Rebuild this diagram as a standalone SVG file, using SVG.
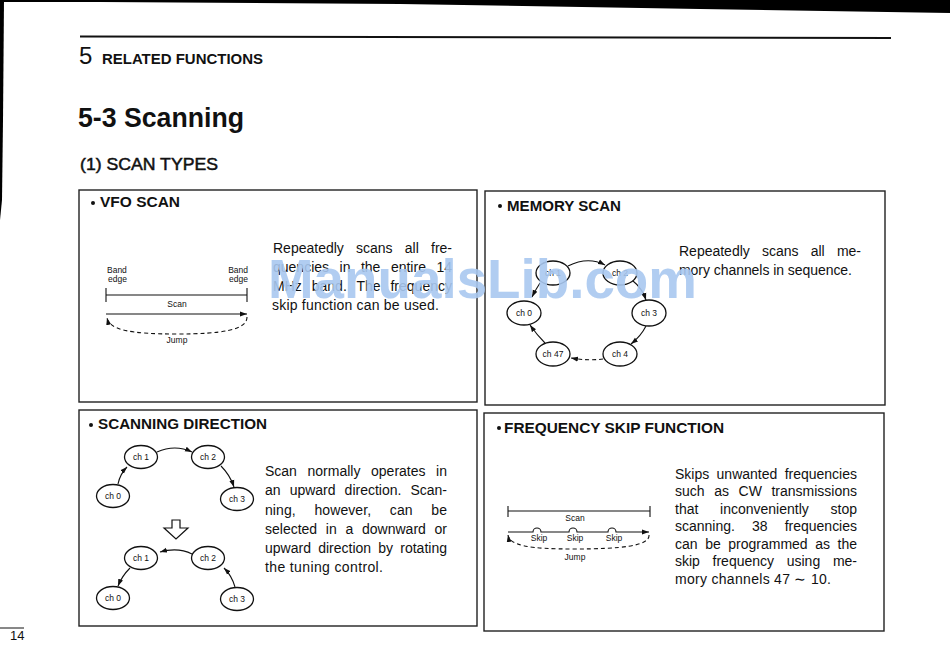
<svg xmlns="http://www.w3.org/2000/svg" width="950" height="667" viewBox="0 0 950 667">
<defs>
<marker id="ah" markerUnits="userSpaceOnUse" markerWidth="8" markerHeight="6" refX="7" refY="3" orient="auto"><path d="M0,0.5 L7,3 L0,5.5 z" fill="#111"/></marker>
<style>
.box{fill:none;stroke:#222;stroke-width:1.4}
.t{font-family:"Liberation Sans",Arial,sans-serif;font-size:14px;fill:#111}
.h{font-family:"Liberation Sans",Arial,sans-serif;font-size:14.5px;font-weight:bold;fill:#111}
.s{font-family:"Liberation Sans",Arial,sans-serif;font-size:8.5px;fill:#111}
.n{fill:#fff;stroke:#111;stroke-width:1.3}
.c{fill:none;stroke:#111;stroke-width:1.1}
.d{fill:none;stroke:#111;stroke-width:1.1;stroke-dasharray:4 3}
</style>
</defs>
<rect width="950" height="667" fill="#fff"/>
<polygon points="0,0 950,0 950,13 700,9 400,4 100,2 0,2" fill="#000"/>
<polygon points="0,0 4,0 3,120 2,200 0,220" fill="#000"/>
<line x1="80" y1="36.5" x2="891" y2="38" stroke="#111" stroke-width="2"/>
<text x="79" y="64" style="font-family:'Liberation Sans',Arial,sans-serif;font-size:24px;fill:#111">5</text>
<text x="102" y="64" textLength="161" lengthAdjust="spacingAndGlyphs" style="font-family:'Liberation Sans',Arial,sans-serif;font-size:15.5px;font-weight:bold;fill:#111">RELATED FUNCTIONS</text>
<text x="78" y="127" textLength="166" lengthAdjust="spacingAndGlyphs" style="font-family:'Liberation Sans',Arial,sans-serif;font-size:27px;font-weight:bold;fill:#111">5-3 Scanning</text>
<text x="80" y="170" textLength="138" lengthAdjust="spacingAndGlyphs" style="font-family:'Liberation Sans',Arial,sans-serif;font-size:17px;fill:#111;stroke:#111;stroke-width:0.5">(1) SCAN  TYPES</text>

<g id="vfo-scan">
<rect class="box" x="79" y="190" width="398" height="212"/>
<circle cx="93" cy="203" r="2" fill="#111"/>
<text class="h" x="100" y="207" textLength="80" lengthAdjust="spacingAndGlyphs">VFO  SCAN</text>
<text class="s" x="107" y="273">Band</text>
<text class="s" x="108" y="282">edge</text>
<text class="s" x="248" y="273" text-anchor="end">Band</text>
<text class="s" x="248" y="282" text-anchor="end">edge</text>
<path class="c" d="M106,295 H247 M106,288 V302 M247,288 V302" stroke-width="1.3"/>
<text class="s" x="177" y="307" text-anchor="middle">Scan</text>
<line class="c" x1="106" y1="314" x2="247" y2="314" marker-end="url(#ah)"/>
<path class="d" d="M247,317 C247,330 222,334 177,334 C130,334 110,330 107,318" marker-end="url(#ah)"/>
<text class="s" x="177" y="343" text-anchor="middle">Jump</text>
<text class="t" x="273" y="253" word-spacing="8.3" textLength="179">Repeatedly scans all fre-</text>
<text class="t" x="273" y="272" word-spacing="6.6" textLength="179">quencies in the entire 14</text>
<text class="t" x="273" y="291" word-spacing="6" textLength="179">MHz band. The frequency</text>
<text class="t" x="272" y="310" textLength="167">skip function can be used.</text>
</g>

<g id="memory-scan">
<rect class="box" x="485" y="191" width="400" height="214"/>
<circle cx="500" cy="206" r="2" fill="#111"/>
<text class="h" x="507" y="211" textLength="114" lengthAdjust="spacingAndGlyphs">MEMORY  SCAN</text>
<text class="t" x="679" y="256" word-spacing="8.3" textLength="182">Repeatedly scans all me-</text>
<text class="t" x="679" y="275" textLength="173">mory channels in sequence.</text>
</g>
<g id="m-ch1"><ellipse class="n" cx="553" cy="273" rx="17" ry="12"/><text class="s" x="553" y="276" text-anchor="middle">ch 1</text></g>
<g id="m-ch2"><ellipse class="n" cx="620" cy="273" rx="17" ry="12"/><text class="s" x="620" y="276" text-anchor="middle">ch 2</text></g>
<g id="m-ch3"><ellipse class="n" cx="649" cy="313" rx="17" ry="13"/><text class="s" x="649" y="316" text-anchor="middle">ch 3</text></g>
<g id="m-ch4"><ellipse class="n" cx="620" cy="354" rx="17" ry="12"/><text class="s" x="620" y="357" text-anchor="middle">ch 4</text></g>
<g id="m-ch47"><ellipse class="n" cx="553" cy="354" rx="17" ry="12"/><text class="s" x="553" y="357" text-anchor="middle">ch 47</text></g>
<g id="m-ch0"><ellipse class="n" cx="524" cy="313" rx="17" ry="12"/><text class="s" x="524" y="316" text-anchor="middle">ch 0</text></g>

<g id="scanning-direction">
<rect class="box" x="79" y="410" width="398" height="216"/>
<circle cx="91" cy="425" r="2" fill="#111"/>
<text class="h" x="98" y="429" textLength="169" lengthAdjust="spacingAndGlyphs">SCANNING  DIRECTION</text>
<polygon points="172,520 180,520 180,528 188,528 176,539 164,528 172,528" fill="#fff" stroke="#111" stroke-width="1.2"/>
<text class="t" x="265" y="476" word-spacing="6.7" textLength="182">Scan normally operates in</text>
<text class="t" x="265" y="495" word-spacing="5.2" textLength="182">an upward direction. Scan-</text>
<text class="t" x="265" y="515" word-spacing="14.7" textLength="182">ning, however, can be</text>
<text class="t" x="265" y="534" word-spacing="4.8" textLength="182">selected in a downward or</text>
<text class="t" x="265" y="553" word-spacing="3.3" textLength="182">upward direction by rotating</text>
<text class="t" x="265" y="572" textLength="118">the tuning control.</text>
</g>
<g id="d-top-ch1"><ellipse class="n" cx="141" cy="457" rx="16.5" ry="11.5"/><text class="s" x="141" y="460" text-anchor="middle">ch 1</text></g>
<g id="d-top-ch2"><ellipse class="n" cx="208" cy="457" rx="16.5" ry="11.5"/><text class="s" x="208" y="460" text-anchor="middle">ch 2</text></g>
<g id="d-top-ch0"><ellipse class="n" cx="113" cy="496" rx="16.5" ry="11.5"/><text class="s" x="113" y="499" text-anchor="middle">ch 0</text></g>
<g id="d-top-ch3"><ellipse class="n" cx="237" cy="499" rx="16.5" ry="11.5"/><text class="s" x="237" y="502" text-anchor="middle">ch 3</text></g>
<g id="d-bot-ch1"><ellipse class="n" cx="141" cy="558" rx="16.5" ry="11.5"/><text class="s" x="141" y="561" text-anchor="middle">ch 1</text></g>
<g id="d-bot-ch2"><ellipse class="n" cx="208" cy="558" rx="16.5" ry="11.5"/><text class="s" x="208" y="561" text-anchor="middle">ch 2</text></g>
<g id="d-bot-ch0"><ellipse class="n" cx="113" cy="598" rx="16.5" ry="11.5"/><text class="s" x="113" y="601" text-anchor="middle">ch 0</text></g>
<g id="d-bot-ch3"><ellipse class="n" cx="237" cy="599" rx="16.5" ry="11.5"/><text class="s" x="237" y="602" text-anchor="middle">ch 3</text></g>

<g id="frequency-skip">
<rect class="box" x="484" y="413" width="400" height="218"/>
<circle cx="499" cy="428" r="2" fill="#111"/>
<text class="h" x="504" y="433" textLength="220" lengthAdjust="spacingAndGlyphs">FREQUENCY  SKIP  FUNCTION</text>
<path class="c" d="M508,511 H650 M508,506 V517 M650,506 V517" stroke-width="1.3"/>
<text class="s" x="575" y="521" text-anchor="middle">Scan</text>
<path class="c" d="M508,532 H533 A4,4 0 0 1 541,532 H569 A4,4 0 0 1 577,532 H608 A4,4 0 0 1 616,532 H649" marker-end="url(#ah)"/>
<text class="s" x="539" y="541" text-anchor="middle">Skip</text>
<text class="s" x="575" y="541" text-anchor="middle">Skip</text>
<text class="s" x="614" y="541" text-anchor="middle">Skip</text>
<path class="d" d="M649,535 C650,546 620,549 575,549 C530,549 510,546 508,535" marker-end="url(#ah)"/>
<text class="s" x="575" y="560" text-anchor="middle">Jump</text>
<text class="t" x="675" y="479" word-spacing="3.5" textLength="182">Skips unwanted frequencies</text>
<text class="t" x="675" y="496" word-spacing="5.7" textLength="182">such as CW transmissions</text>
<text class="t" x="675" y="514" word-spacing="17.9" textLength="182">that inconveniently stop</text>
<text class="t" x="675" y="531" word-spacing="13.3" textLength="182">scanning. 38 frequencies</text>
<text class="t" x="675" y="549" word-spacing="3.7" textLength="182">can be programmed as the</text>
<text class="t" x="675" y="566" word-spacing="8.8" textLength="182">skip frequency using me-</text>
<text class="t" x="675" y="584" textLength="156">mory channels 47 ∼ 10.</text>
</g>

<g id="connectors">
<path class="c" d="M568,266 Q588,256 605,265" marker-end="url(#ah)"/>
<path class="c" d="M633,281 Q642,288 646,300" marker-end="url(#ah)"/>
<path class="c" d="M646,326 Q641,336 631,344" marker-end="url(#ah)"/>
<path class="d" d="M603,359 Q588,361 571,358" marker-end="url(#ah)"/>
<path class="c" d="M545,343 Q537,335 530,325" marker-end="url(#ah)"/>
<path class="c" d="M540,283 Q536,289 532,297" marker-end="url(#ah)"/>
<path class="c" d="M118,484 Q120,474 127,467" marker-end="url(#ah)"/>
<path class="c" d="M157,452 Q175,444 192,452" marker-end="url(#ah)"/>
<path class="c" d="M221,466 Q230,475 234,487" marker-end="url(#ah)"/>
<path class="c" d="M192,554 Q178,547 160,552" marker-end="url(#ah)"/>
<path class="c" d="M130,568 Q122,576 118,586" marker-end="url(#ah)"/>
<path class="c" d="M235,587 Q232,576 224,568" marker-end="url(#ah)"/>
</g>

<line x1="0" y1="628" x2="24" y2="628" stroke="#111" stroke-width="1"/>
<text x="10" y="640" style="font-family:'Liberation Sans',Arial,sans-serif;font-size:13px;fill:#111">14</text>
<text x="268" y="298" textLength="429" lengthAdjust="spacingAndGlyphs" style="font-family:'Liberation Sans',Arial,sans-serif;font-size:55px;font-weight:bold;fill:#a9c8f0;fill-opacity:0.9">ManualsLib.com</text>
</svg>
